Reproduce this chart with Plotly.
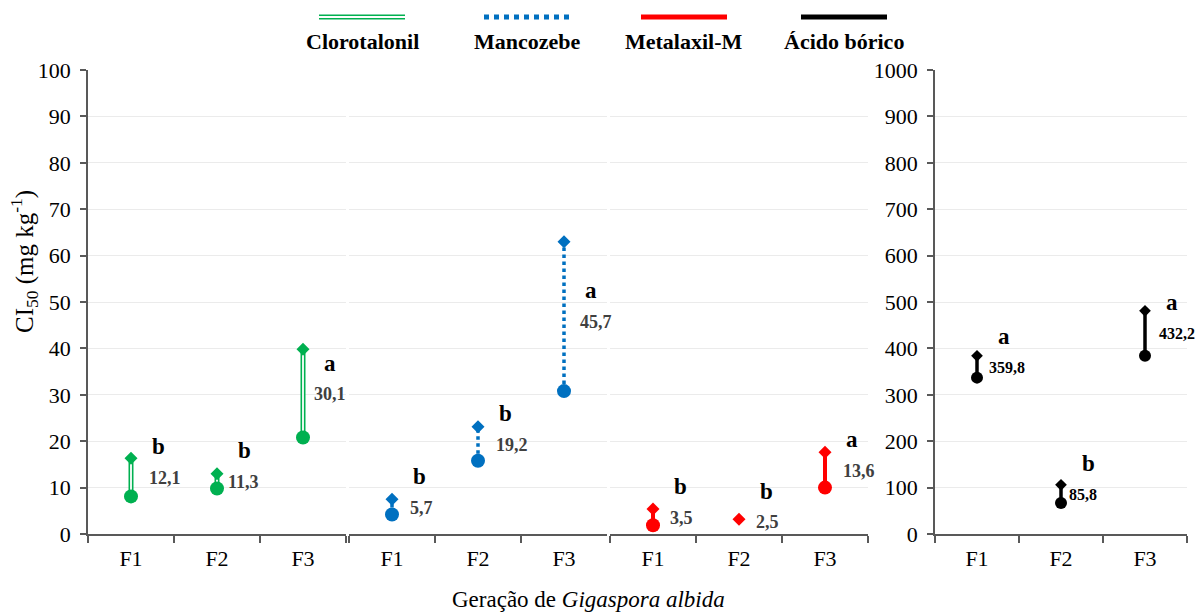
import plotly.graph_objects as go

# ---- data -------------------------------------------------------------
generations = ["F1", "F2", "F3"]
products = ["Clorotalonil", "Mancozebe", "Metalaxil-M", "Ácido bórico"]

# CI50 (mg kg-1) with lower / upper confidence limits
clorotalonil_ci50 = [12.1, 11.3, 30.1]
clorotalonil_lower = [8.1, 9.8, 20.8]
clorotalonil_upper = [16.3, 13.0, 39.8]
clorotalonil_letters = ["b", "b", "a"]

mancozebe_ci50 = [5.7, 19.2, 45.7]
mancozebe_lower = [4.2, 15.8, 30.8]
mancozebe_upper = [7.5, 23.1, 63.0]
mancozebe_letters = ["b", "b", "a"]

metalaxil_ci50 = [3.5, 2.5, 13.6]
metalaxil_lower = [1.9, None, 10.0]
metalaxil_upper = [5.4, 3.2, 17.6]
metalaxil_letters = ["b", "b", "a"]

acido_ci50 = [359.8, 85.8, 432.2]
acido_lower = [337.0, 67.0, 384.0]
acido_upper = [384.0, 106.0, 481.0]
acido_letters = ["a", "b", "a"]

left_ticks = list(range(0, 101, 10))
right_ticks = list(range(0, 1001, 100))

# ---- figure geometry (pixels) ------------------------------------------
W, H = 1198, 612
def fx(px):
    return px / W
def fy(py):
    return 1 - py / H

FONT = "Liberation Serif"
AXIS_COLOR = "#595959"
GRID_COLOR = "#EBEBEB"
TICK_FONT = dict(family=FONT, size=22, color="#000000")

panels = [
    dict(name=products[0], ci=clorotalonil_ci50, lo=clorotalonil_lower, hi=clorotalonil_upper,
         let=clorotalonil_letters, color="#00B050", style="double", dom=(88, 346),
         label_dx=[16, 9, 9], label_color="#404040", label_size=18, circ=14, diam=10),
    dict(name=products[1], ci=mancozebe_ci50, lo=mancozebe_lower, hi=mancozebe_upper,
         let=mancozebe_letters, color="#0070C0", style="dot", dom=(349, 607),
         label_dx=[16, 16, 14], label_color="#404040", label_size=18, circ=14, diam=10),
    dict(name=products[2], ci=metalaxil_ci50, lo=metalaxil_lower, hi=metalaxil_upper,
         let=metalaxil_letters, color="#FF0000", style="solid", dom=(610, 868),
         label_dx=[15, 15, 16], label_color="#404040", label_size=18, circ=14, diam=10),
    dict(name=products[3], ci=acido_ci50, lo=acido_lower, hi=acido_upper,
         let=acido_letters, color="#000000", style="solid", dom=(935, 1187),
         label_dx=[10, 6, 12], label_color="#000000", label_size=16, circ=12, diam=9),
]

fig = go.Figure()
annotations = []
shapes = []

for i, p in enumerate(panels):
    sfx = "" if i == 0 else str(i + 1)
    xa, ya = "x" + sfx, "y" + sfx

    # confidence-interval segments
    seg_x, seg_y = [], []
    for g, lo, hi in zip(generations, p["lo"], p["hi"]):
        if lo is None or hi is None:
            continue
        seg_x += [g, g, None]
        seg_y += [lo, hi, None]

    if p["style"] == "double":
        fig.add_trace(go.Scatter(x=seg_x, y=seg_y, mode="lines", xaxis=xa, yaxis=ya,
                                 line=dict(color=p["color"], width=5), hoverinfo="skip",
                                 showlegend=False))
        fig.add_trace(go.Scatter(x=seg_x, y=seg_y, mode="lines", xaxis=xa, yaxis=ya,
                                 line=dict(color="white", width=1.8), hoverinfo="skip",
                                 showlegend=False))
    elif p["style"] == "dot":
        fig.add_trace(go.Scatter(x=seg_x, y=seg_y, mode="lines", xaxis=xa, yaxis=ya,
                                 line=dict(color=p["color"], width=3.5, dash="dot"),
                                 hoverinfo="skip", showlegend=False))
    else:
        fig.add_trace(go.Scatter(x=seg_x, y=seg_y, mode="lines", xaxis=xa, yaxis=ya,
                                 line=dict(color=p["color"], width=4 if i == 2 else 3.5),
                                 hoverinfo="skip", showlegend=False))

    # lower limit (circle) and upper limit (diamond)
    fig.add_trace(go.Scatter(x=generations, y=p["lo"], mode="markers", xaxis=xa, yaxis=ya,
                             marker=dict(symbol="circle", size=p["circ"], color=p["color"]),
                             name=p["name"] + " inferior", showlegend=False))
    fig.add_trace(go.Scatter(x=generations, y=p["hi"], mode="markers", xaxis=xa, yaxis=ya,
                             marker=dict(symbol="diamond", size=p["diam"], color=p["color"]),
                             name=p["name"] + " superior", showlegend=False))

    # CI50 value labels and significance letters
    for g, v, letter, dx in zip(generations, p["ci"], p["let"], p["label_dx"]):
        annotations.append(dict(x=g, y=v, xref=xa, yref=ya, text="<b>%s</b>" % f"{v:.1f}".replace(".", ","),
                                showarrow=False, xanchor="left", yanchor="middle", xshift=dx,
                                font=dict(family=FONT, size=p["label_size"], color=p["label_color"])))
        annotations.append(dict(x=g, y=v, xref=xa, yref=ya, text="<b>%s</b>" % letter,
                                showarrow=False, xanchor="center", yanchor="middle",
                                xshift=27, yshift=31,
                                font=dict(family=FONT, size=23, color="#000000")))

    # axes
    x0, x1 = p["dom"]
    fig.update_layout(**{
        "xaxis" + sfx: dict(domain=[fx(x0), fx(x1)], type="category",
                            categoryorder="array", categoryarray=generations,
                            range=[-0.5, 2.5], showline=True, linecolor=AXIS_COLOR, linewidth=1.5,
                            ticks="outside", tickson="boundaries", ticklen=7,
                            tickcolor=AXIS_COLOR, tickwidth=1.5, showgrid=False,
                            tickfont=TICK_FONT, ticklabelstandoff=4,
                            anchor=ya, fixedrange=True, automargin=False),
    })
    if i < 3:
        yconf = dict(domain=[fy(534), fy(70)], range=[0, 100], tickvals=left_ticks,
                     showgrid=True, gridcolor=GRID_COLOR, gridwidth=1, zeroline=False,
                     anchor=xa, fixedrange=True, automargin=False)
        if i == 0:
            yconf.update(showline=True, linecolor=AXIS_COLOR, linewidth=1.5, ticks="outside",
                         ticklen=6, tickcolor=AXIS_COLOR, tickwidth=1.5,
                         tickfont=TICK_FONT, ticklabelstandoff=5)
        else:
            yconf.update(showline=False, ticks="", showticklabels=False)
    else:
        yconf = dict(domain=[fy(534), fy(70)], range=[0, 1000], tickvals=right_ticks,
                     showgrid=True, gridcolor=GRID_COLOR, gridwidth=1, zeroline=False,
                     showline=True, linecolor=AXIS_COLOR, linewidth=1.5, ticks="outside",
                     ticklen=6, tickcolor=AXIS_COLOR, tickwidth=1.5,
                     tickfont=TICK_FONT, ticklabelstandoff=5,
                     anchor=xa, fixedrange=True, automargin=False)
    fig.update_layout(**{"yaxis" + sfx: yconf})

# ---- legend drawn above the panels --------------------------------------
legend_centers = [362, 527, 684, 844]
legend_half = 43
legend_y = 17
for p, cx in zip(panels, legend_centers):
    base = dict(type="line", xref="paper", yref="paper",
                x0=fx(cx - legend_half), x1=fx(cx + legend_half), y0=fy(legend_y), y1=fy(legend_y))
    if p["style"] == "double":
        shapes.append(dict(base, line=dict(color=p["color"], width=5)))
        shapes.append(dict(base, line=dict(color="white", width=1.8)))
    elif p["style"] == "dot":
        shapes.append(dict(base, line=dict(color=p["color"], width=5, dash="dot")))
    else:
        shapes.append(dict(base, line=dict(color=p["color"], width=5)))
    annotations.append(dict(x=fx(cx), y=fy(42), xref="paper", yref="paper",
                            text="<b>%s</b>" % p["name"], showarrow=False,
                            xanchor="center", yanchor="middle",
                            font=dict(family=FONT, size=22, color="#000000")))

# ---- axis titles ---------------------------------------------------------
annotations.append(dict(x=fx(24), y=fy(262), xref="paper", yref="paper",
                        text="CI<sub>50</sub> (mg kg<sup>-1</sup>)", textangle=-90,
                        showarrow=False, xanchor="center", yanchor="middle",
                        font=dict(family=FONT, size=25, color="#000000")))
annotations.append(dict(x=fx(588), y=fy(599), xref="paper", yref="paper",
                        text="Geração de <i>Gigaspora albida</i>",
                        showarrow=False, xanchor="center", yanchor="middle",
                        font=dict(family=FONT, size=23, color="#000000")))

fig.update_layout(width=W, height=H, margin=dict(l=0, r=0, t=0, b=0),
                  paper_bgcolor="white", plot_bgcolor="white",
                  annotations=annotations, shapes=shapes, showlegend=False,
                  font=dict(family=FONT, color="#000000"))

fig.write_html("out.html", config={"displayModeBar": False})
